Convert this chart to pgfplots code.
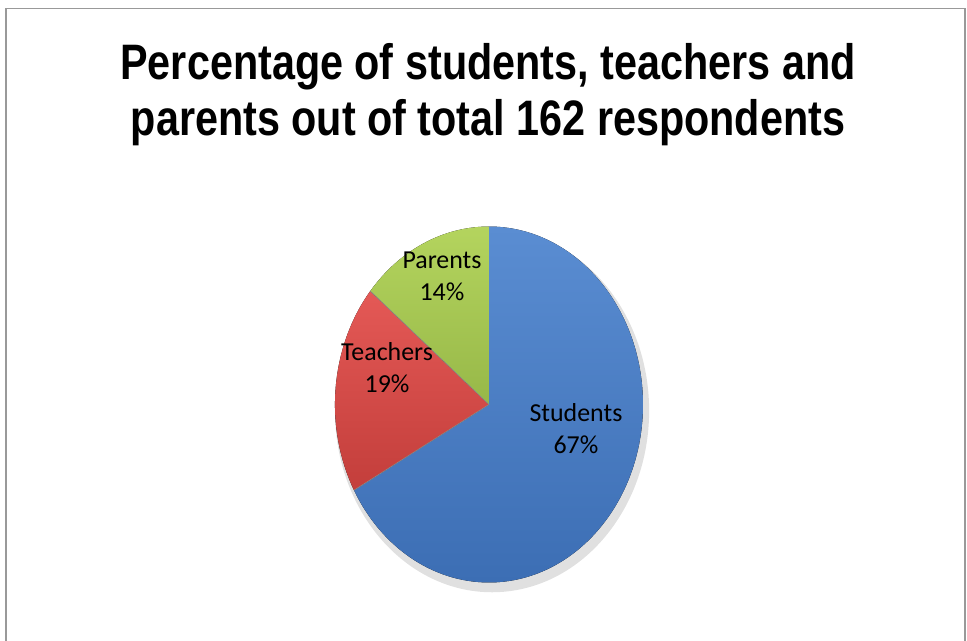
\documentclass[border=0pt]{standalone}
\usepackage{pgfplots}
\pgfplotsset{compat=1.18}
\usepackage{pgfplotstable}
\usepackage{fontspec}
\setmainfont{Carlito}
\newfontfamily\titlefont{Liberation Sans}[FakeStretch=0.83]

\definecolor{studA}{HTML}{5A8DD2}
\definecolor{studB}{HTML}{3C6EB4}
\definecolor{teachA}{HTML}{E45956}
\definecolor{teachB}{HTML}{C33E3B}
\definecolor{parA}{HTML}{B4D45E}
\definecolor{parB}{HTML}{97B848}
\definecolor{framegray}{HTML}{999999}

% share of the 162 respondents, in percent
\pgfplotstableread{
group    pct
Students 67
Teachers 19
Parents  14
}\piedata

\pgfplotstablegetelem{0}{pct}\of\piedata \let\pS\pgfplotsretval
\pgfplotstablegetelem{1}{pct}\of\piedata \let\pT\pgfplotsretval
\pgfplotstablegetelem{2}{pct}\of\piedata \let\pP\pgfplotsretval
\pgfmathsetmacro\aA{90}
\pgfmathsetmacro\aB{\aA-3.6*\pS}
\pgfmathsetmacro\aC{\aB-3.6*\pT}
\pgfmathsetmacro\aD{\aC-3.6*\pP}

\begin{document}
\begin{tikzpicture}
\begin{axis}[
    at={(6bp,632.5bp)}, anchor=north west,
    scale only axis,
    width=959bp, height=640bp,
    xmin=-3.136, xmax=3.091,
    ymin=-1.371, ymax=2.225,
    disabledatascaling,
    xtick=\empty, ytick=\empty,
    axis line style={draw=framegray, line width=1.6bp},
    clip=false,
  ]
  % soft shadow
  \fill[black, opacity=0.12] (axis cs:0.02,-0.035) ellipse [x radius=1.02, y radius=1.02];
  \fill[top color=studA, bottom color=studB]
    (axis cs:0,0) -- (axis cs:{cos(\aA)},{sin(\aA)})
    arc[start angle=\aA, end angle=\aB, radius=1] -- cycle;
  \fill[top color=teachA, bottom color=teachB]
    (axis cs:0,0) -- (axis cs:{cos(\aB)},{sin(\aB)})
    arc[start angle=\aB, end angle=\aC, radius=1] -- cycle;
  \fill[top color=parA, bottom color=parB]
    (axis cs:0,0) -- (axis cs:{cos(\aC)},{sin(\aC)})
    arc[start angle=\aC, end angle=\aD, radius=1] -- cycle;
  % thin seams between the slices
  \draw[black!45, line width=0.6bp]
    (axis cs:{cos(\aB)},{sin(\aB)}) -- (axis cs:0,0) -- (axis cs:{cos(\aC)},{sin(\aC)});

  \begin{scope}[every node/.style={align=center, font=\fontsize{26}{32}\selectfont, text=black}]
    \node at (axis cs:0.565,-0.135) {Students\\\pS\%};
    \node at (axis cs:-0.662,0.208) {Teachers\\\pT\%};
    \node at (axis cs:-0.305,0.719) {Parents\\\pP\%};
  \end{scope}
\end{axis}
\node[anchor=base, font=\titlefont\bfseries\fontsize{50}{56}\selectfont]
  at (488bp,561bp) {Percentage of students, teachers and};
\node[anchor=base, font=\titlefont\bfseries\fontsize{50}{56}\selectfont]
  at (488bp,505bp) {parents out of total 162 respondents};
\pgfresetboundingbox
\useasboundingbox (0,0) rectangle (967bp,641bp);
\end{tikzpicture}
\end{document}
